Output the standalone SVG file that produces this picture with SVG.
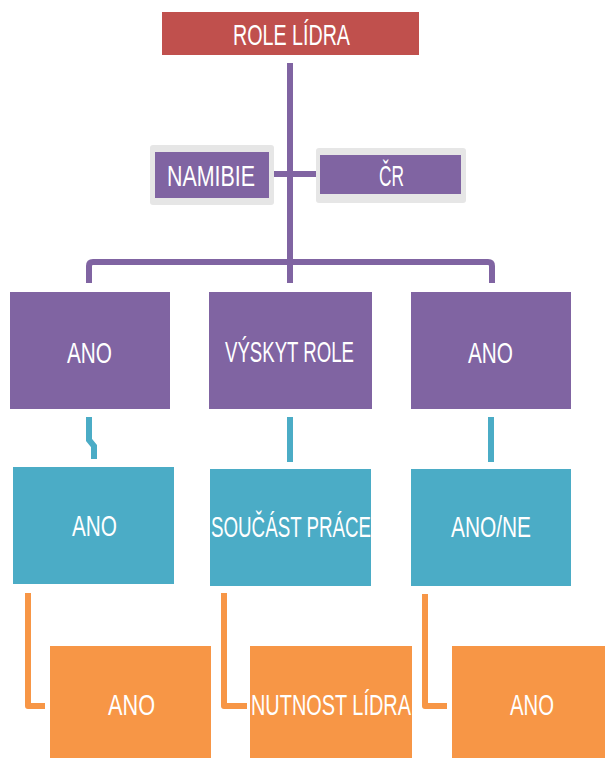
<svg xmlns="http://www.w3.org/2000/svg" width="605" height="758" viewBox="0 0 605 758">
  <style>
    .red { fill: #C0504D; }
    .purple { fill: #8064A2; }
    .teal { fill: #4BACC6; }
    .orange { fill: #F79646; }
    .frame { fill: #E6E6E6; }
    .lbl { font-family: "Liberation Sans", Arial, sans-serif; font-size: 29px; fill: #FFFFFF; text-anchor: start; }
    .c-purple { stroke: #8064A2; stroke-width: 6; fill: none; stroke-linejoin: round; }
    .c-teal { stroke: #4BACC6; stroke-width: 6; fill: none; }
    .c-orange { stroke: #F79646; stroke-width: 6; fill: none; stroke-linejoin: round; }
  </style>
  <rect width="605" height="758" fill="#FFFFFF"/>

  <!-- connectors -->
  <g id="connectors">
    <line class="c-purple" x1="290" y1="63" x2="290" y2="283"/>
    <line class="c-purple" x1="268" y1="174" x2="318" y2="174"/>
    <path class="c-purple" d="M89 283 V266 Q89 262 93 262 H488 Q492 262 492 266 V283"/>
    <path class="c-teal" d="M89 417 V440 L94 446 V459"/>
    <line class="c-teal" x1="290" y1="417" x2="290" y2="462"/>
    <line class="c-teal" x1="491" y1="417" x2="491" y2="462"/>
    <path class="c-orange" d="M28 593 V706 H45"/>
    <path class="c-orange" d="M224 593 V706 H247"/>
    <path class="c-orange" d="M425 594 V706 H447"/>
  </g>

  <g id="role-lidra">
    <rect class="red" x="162" y="12" width="257" height="43"/>
    <text class="lbl" x="233" y="45" textLength="117" lengthAdjust="spacingAndGlyphs">ROLE LÍDRA</text>
  </g>

  <g id="namibie">
    <rect class="frame" x="150" y="145" width="124" height="60" rx="3"/>
    <rect class="purple" x="155" y="152" width="114" height="46"/>
    <text class="lbl" x="167" y="186" textLength="88" lengthAdjust="spacingAndGlyphs">NAMIBIE</text>
  </g>

  <g id="cr">
    <rect class="frame" x="316" y="148" width="150" height="55" rx="3"/>
    <rect class="purple" x="320" y="155" width="141" height="39"/>
    <text class="lbl" x="379" y="186" textLength="25" lengthAdjust="spacingAndGlyphs">ČR</text>
  </g>

  <g id="p-left">
    <rect class="purple" x="10" y="292" width="160" height="117"/>
    <text class="lbl" x="67" y="363" textLength="45" lengthAdjust="spacingAndGlyphs">ANO</text>
  </g>
  <g id="p-mid">
    <rect class="purple" x="209" y="292" width="163" height="117"/>
    <text class="lbl" x="225" y="362" textLength="129" lengthAdjust="spacingAndGlyphs">VÝSKYT ROLE</text>
  </g>
  <g id="p-right">
    <rect class="purple" x="411" y="292" width="160" height="117"/>
    <text class="lbl" x="468" y="363" textLength="45" lengthAdjust="spacingAndGlyphs">ANO</text>
  </g>

  <g id="t-left">
    <rect class="teal" x="13" y="467" width="161" height="117"/>
    <text class="lbl" x="72" y="536" textLength="45" lengthAdjust="spacingAndGlyphs">ANO</text>
  </g>
  <g id="t-mid">
    <rect class="teal" x="210" y="469" width="161" height="117"/>
    <text class="lbl" x="211" y="537" textLength="160" lengthAdjust="spacingAndGlyphs">SOUČÁST PRÁCE</text>
  </g>
  <g id="t-right">
    <rect class="teal" x="411" y="469" width="160" height="117"/>
    <text class="lbl" x="451" y="537" textLength="80" lengthAdjust="spacingAndGlyphs">ANO/NE</text>
  </g>

  <g id="o-left">
    <rect class="orange" x="50" y="646" width="161" height="112"/>
    <text class="lbl" x="108" y="715" textLength="47" lengthAdjust="spacingAndGlyphs">ANO</text>
  </g>
  <g id="o-mid">
    <rect class="orange" x="250" y="646" width="162" height="112"/>
    <text class="lbl" x="251" y="715" textLength="160" lengthAdjust="spacingAndGlyphs">NUTNOST LÍDRA</text>
  </g>
  <g id="o-right">
    <rect class="orange" x="452" y="646" width="153" height="112"/>
    <text class="lbl" x="510" y="715" textLength="44" lengthAdjust="spacingAndGlyphs">ANO</text>
  </g>
</svg>
